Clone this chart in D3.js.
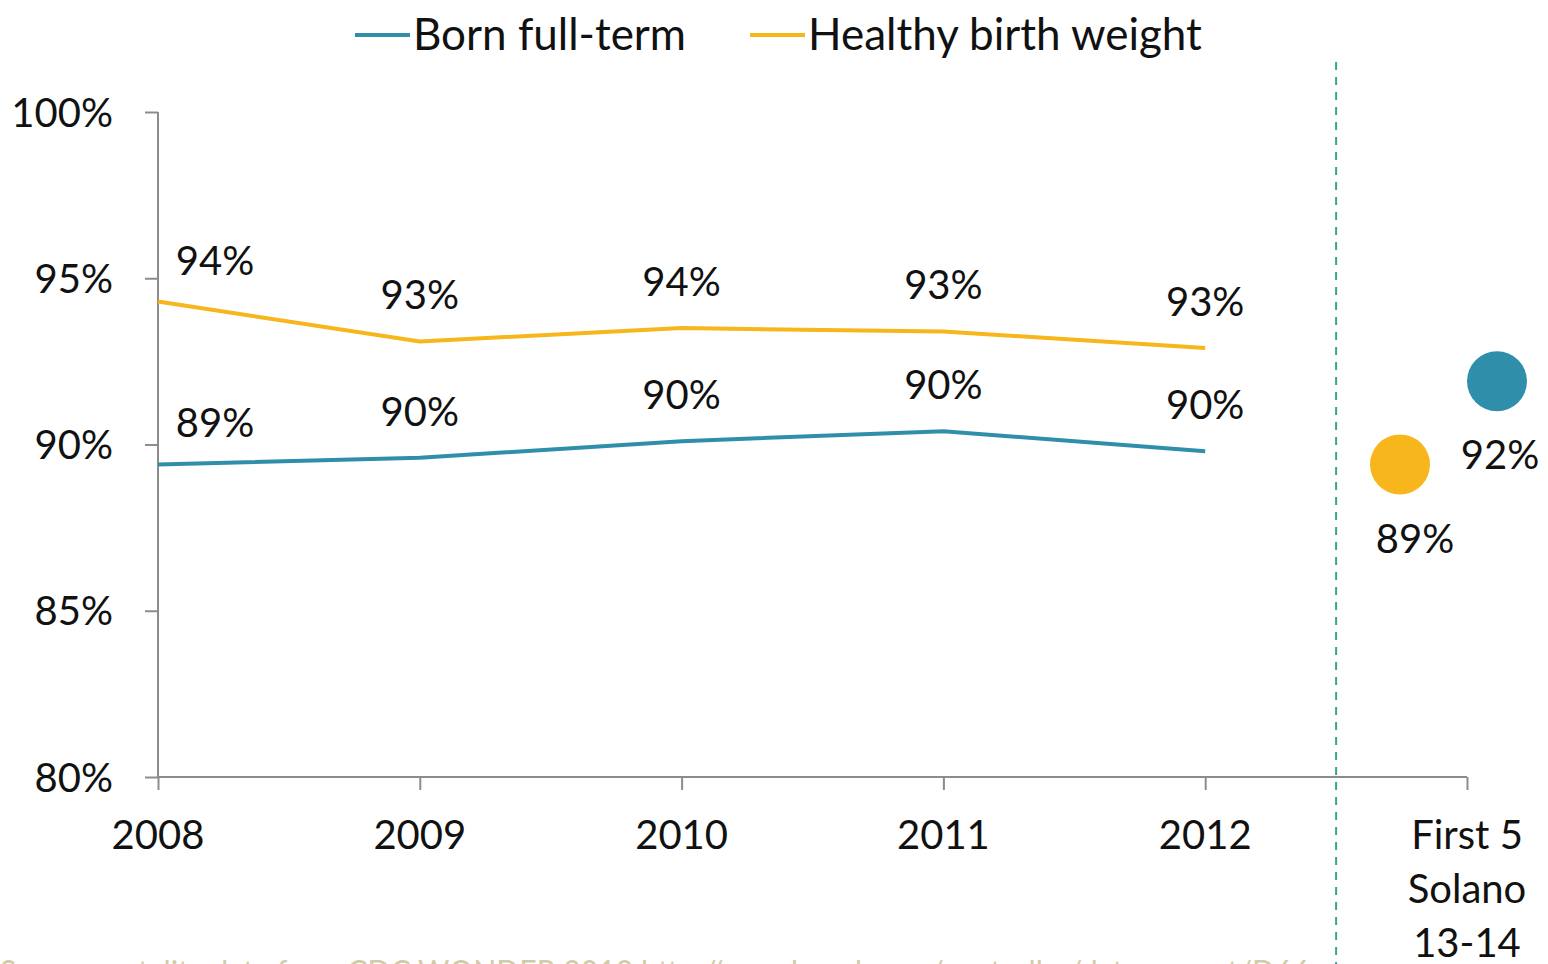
<!DOCTYPE html>
<html>
<head>
<meta charset="utf-8">
<script src="https://cdn.jsdelivr.net/npm/d3@7"></script>
<style>
	body { margin: 0; background: #fff; }
	svg { display: block; font-family: Lato, "Open Sans", sans-serif; }
</style>
</head>
<body>
<svg id="chart" width="1548" height="964"></svg>
<script>
// Chart data
const categories = ["2008", "2009", "2010", "2011", "2012", "First 5 Solano 13-14"]
const categoryLines = [["2008"], ["2009"], ["2010"], ["2011"], ["2012"], ["First 5", "Solano", "13-14"]]
const years = ["2008", "2009", "2010", "2011", "2012"]
const fullTerm = [89.4, 89.6, 90.1, 90.4, 89.8]
const healthyWeight = [94.3, 93.1, 93.5, 93.4, 92.9]
const fullTermLabels = ["89%", "90%", "90%", "90%", "90%"]
const healthyWeightLabels = ["94%", "93%", "94%", "93%", "93%"]
const solanoFullTerm = 91.9
const solanoHealthyWeight = 89.4
const solanoLabels = { fullTerm: "92%", healthyWeight: "89%" }
const yTicks = [80, 85, 90, 95, 100]
const seriesNames = ["Born full-term", "Healthy birth weight"]

const colours = {
	blue: "#2f8fab",
	yellow: "#f6b61c",
	axis: "#8c8c8c",
	divider: "#3aa58e",
	text: "#111",
	source: "#d2caa9",
}

const svg = d3.select("#chart")

const x = d3.scalePoint()
	.domain(categories)
	.range([158, 1467])

const y = d3.scaleLinear()
	.domain([80, 100])
	.range([777, 112])

const fontSize = 40

// Y axis
const yAxis = svg.append("g")
	.attr("transform", `translate(${x.range()[0]}, 0)`)
	.call(d3.axisLeft(y).tickValues(yTicks).tickSize(13).tickFormat(d => d + "%"))
yAxis.select(".domain").attr("stroke", colours.axis).attr("stroke-width", 2)
	.attr("d", `M0,${y(80)}V${y(100)}`)
yAxis.selectAll(".tick line").attr("stroke", colours.axis).attr("stroke-width", 2)
yAxis.selectAll(".tick text")
	.attr("x", -45)
	.attr("dy", "0.35em")
	.attr("fill", colours.text)
	.style("font-size", fontSize + "px")
	.style("font-family", "Lato, sans-serif")

// X axis
const xAxis = svg.append("g")
	.attr("transform", `translate(0, ${y(80)})`)
	.call(d3.axisBottom(x).tickSize(13).tickFormat(""))
xAxis.select(".domain").attr("stroke", colours.axis).attr("stroke-width", 2)
	.attr("d", `M${x.range()[0]},0H${x.range()[1]}`)
xAxis.selectAll(".tick line").attr("stroke", colours.axis).attr("stroke-width", 2)

// Category labels (multi-line for the Solano column)
categories.forEach((c, i) => {
	let t = svg.append("text")
		.attr("x", x(c))
		.attr("y", y(80) + 72)
		.attr("text-anchor", "middle")
		.attr("fill", colours.text)
		.style("font-size", fontSize + "px")
	categoryLines[i].forEach((line, j) => {
		t.append("tspan")
			.attr("x", x(c))
			.attr("dy", j === 0 ? 0 : 54)
			.text(line)
	})
})

// Divider between yearly trend and Solano
const step = x.step()
svg.append("line")
	.attr("x1", x("2012") + step / 2)
	.attr("x2", x("2012") + step / 2)
	.attr("y1", 62)
	.attr("y2", 964)
	.attr("stroke", colours.divider)
	.attr("stroke-width", 2)
	.attr("stroke-dasharray", "8,7")

// Lines
const line = d3.line()
	.x((d, i) => x(years[i]))
	.y(d => y(d))

const series = [
	{ values: healthyWeight, labels: healthyWeightLabels, colour: colours.yellow },
	{ values: fullTerm, labels: fullTermLabels, colour: colours.blue },
]

series.forEach(s => {
	svg.append("path")
		.datum(s.values)
		.attr("fill", "none")
		.attr("stroke", s.colour)
		.attr("stroke-width", 4)
		.attr("d", line)

	svg.append("g")
		.selectAll("text")
		.data(s.values)
		.join("text")
		.attr("x", (d, i) => x(years[i]) + (i === 0 ? 57 : 0))
		.attr("y", (d, i) => y(d) - (i === 0 ? 27 : 32))
		.attr("text-anchor", "middle")
		.attr("fill", colours.text)
		.style("font-size", fontSize + "px")
		.text((d, i) => s.labels[i])
})

// Solano dots
const solanoX = x(categories[5])
const dots = [
	{ value: solanoHealthyWeight, colour: colours.yellow, dx: -67, label: solanoLabels.healthyWeight, lx: -52, ly: 89 },
	{ value: solanoFullTerm, colour: colours.blue, dx: 30, label: solanoLabels.fullTerm, lx: 33, ly: 88 },
]
dots.forEach(d => {
	svg.append("circle")
		.attr("cx", solanoX + d.dx)
		.attr("cy", y(d.value))
		.attr("r", 30)
		.attr("fill", d.colour)
	svg.append("text")
		.attr("x", solanoX + d.lx)
		.attr("y", y(d.value) + d.ly)
		.attr("text-anchor", "middle")
		.attr("fill", colours.text)
		.style("font-size", fontSize + "px")
		.text(d.label)
})

// Legend
const legend = svg.append("g")
const legendItems = [
	{ name: seriesNames[0], colour: colours.blue, x: 355 },
	{ name: seriesNames[1], colour: colours.yellow, x: 750 },
]
legendItems.forEach(item => {
	legend.append("line")
		.attr("x1", item.x)
		.attr("x2", item.x + 55)
		.attr("y1", 35)
		.attr("y2", 35)
		.attr("stroke", item.colour)
		.attr("stroke-width", 4)
	legend.append("text")
		.attr("x", item.x + 58)
		.attr("y", 50)
		.attr("fill", colours.text)
		.style("font-size", "44px")
		.text(item.name)
})

// Source note, cut off at the bottom edge
svg.append("text")
	.attr("x", 0)
	.attr("y", 984)
	.attr("fill", colours.source)
	.attr("textLength", 1310)
	.attr("lengthAdjust", "spacingAndGlyphs")
	.style("font-size", "32px")
	.text("Source: natality data from CDC WONDER 2012 http://wonder.cdc.gov/controller/datarequest/D66")
</script>
</body>
</html>
